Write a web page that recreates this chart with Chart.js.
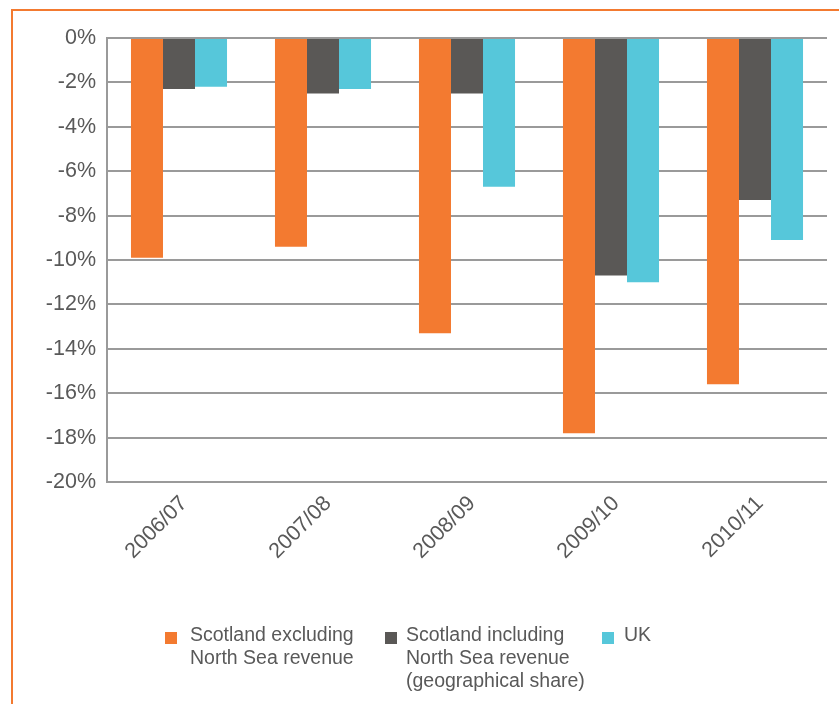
<!DOCTYPE html>
<html>
<head>
<meta charset="utf-8">
<script src="https://cdn.jsdelivr.net/npm/chart.js@4/dist/chart.umd.min.js"></script>
<style>
  html, body { margin: 0; padding: 0; background: #fff; }
  #wrap { position: relative; width: 839px; height: 704px; overflow: hidden; font-family: "Liberation Sans", Arial, sans-serif; }
  #frame { position: absolute; left: 11px; top: 9px; width: 900px; height: 800px; border-top: 2px solid #F37A30; border-left: 2px solid #F37A30; box-sizing: border-box; }
  #c { position: absolute; left: 0; top: 0; }
  #legend { position: absolute; left: 0; top: 623px; width: 839px; height: 80px; }
  .item { position: absolute; top: 0; color: #595959; font-size: 19.5px; line-height: 23px; }
  .box { position: absolute; width: 12px; height: 12px; top: 9px; }
  .txt { position: absolute; top: 0; white-space: nowrap; }
</style>
</head>
<body>
<div id="wrap">
  <div id="frame"></div>
  <canvas id="c" width="839" height="704"></canvas>
  <div id="legend"></div>
</div>
<script>
const categories = ["2006/07", "2007/08", "2008/09", "2009/10", "2010/11"];
const seriesNames = [
  ["Scotland excluding", "North Sea revenue"],
  ["Scotland including", "North Sea revenue", "(geographical share)"],
  ["UK"]
];
const scotlandExNorthSea = [-9.9, -9.4, -13.3, -17.8, -15.6];
const scotlandInclNorthSea = [-2.3, -2.5, -2.5, -10.7, -7.3];
const ukValues = [-2.2, -2.3, -6.7, -11.0, -9.1];
const seriesColors = ["#F37A30", "#5A5856", "#56C7DA"];
const yTicks = { min: -20, max: 0, step: 2 };

const seriesData = [scotlandExNorthSea, scotlandInclNorthSea, ukValues];

new Chart(document.getElementById('c'), {
  type: 'bar',
  data: {
    labels: categories,
    datasets: seriesData.map((d, i) => ({
      label: seriesNames[i].join(' '),
      data: d,
      backgroundColor: seriesColors[i],
      borderWidth: 0,
      categoryPercentage: 0.667,
      barPercentage: 1.0
    }))
  },
  options: {
    responsive: false,
    animation: false,
    devicePixelRatio: 1,
    layout: { padding: { left: 0, top: 38, right: 12, bottom: 0 } },
    plugins: { legend: { display: false }, tooltip: { enabled: false } },
    scales: {
      x: {
        grid: { display: false, drawTicks: false },
        border: { display: false },
        ticks: {
          color: '#595959',
          font: { family: '"Liberation Sans", Arial, sans-serif', size: 21.5 },
          maxRotation: 45, minRotation: 45,
          padding: 9,
          labelOffset: 5
        },
        afterFit: (s) => { s.height = 222; }
      },
      y: {
        min: yTicks.min, max: yTicks.max,
        grid: { color: '#9A9A9A', lineWidth: 2, drawTicks: false },
        border: { display: true, color: '#9A9A9A', width: 2 },
        ticks: {
          stepSize: yTicks.step,
          color: '#595959',
          font: { family: '"Liberation Sans", Arial, sans-serif', size: 21.5 },
          padding: 11,
          callback: (v) => v + '%'
        },
        afterFit: (s) => { s.width = 107; }
      }
    }
  }
});

// HTML legend built from series names/colours
const legendPos = [
  { box: 165, text: 190 },
  { box: 385, text: 406 },
  { box: 602, text: 624 }
];
const lg = document.getElementById('legend');
seriesNames.forEach((lines, i) => {
  const it = document.createElement('div');
  it.className = 'item';
  const b = document.createElement('div');
  b.className = 'box';
  b.style.left = legendPos[i].box + 'px';
  b.style.background = seriesColors[i];
  const t = document.createElement('div');
  t.className = 'txt';
  t.style.left = legendPos[i].text + 'px';
  t.innerHTML = lines.map(l => l.replace(/&/g, '&amp;')).join('<br>');
  it.appendChild(b); it.appendChild(t);
  lg.appendChild(it);
});
</script>
</body>
</html>
